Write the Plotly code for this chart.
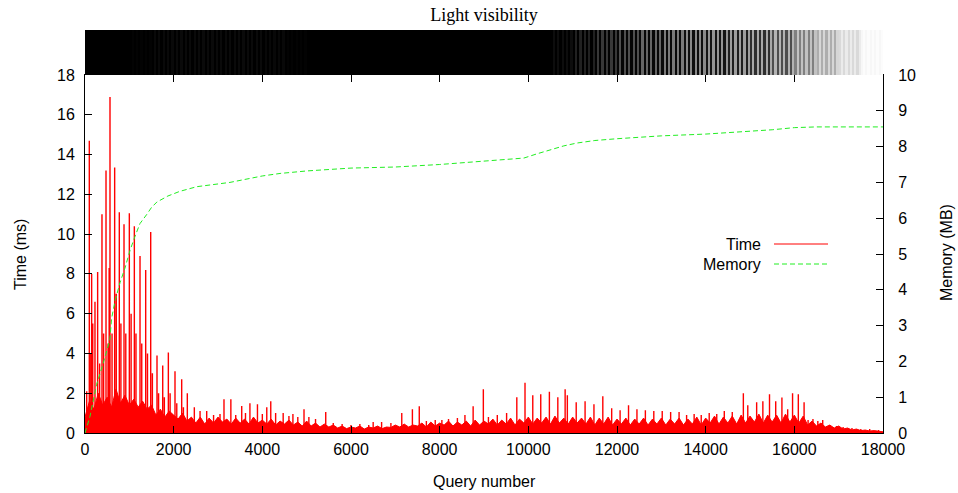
import plotly.graph_objects as go

# ---------------- data ----------------
query_ticks = list(range(0, 18001, 2000))
query_labels = [str(v) for v in query_ticks]
time_ticks = list(range(0, 19, 2))
mem_ticks = list(range(0, 11))

# prominent time spikes (query number, ms)
spike_q = [38, 97, 130, 150, 175, 225, 285, 330, 383, 420,
           474, 520, 545, 564, 610, 669, 705, 774, 810, 880,
           920, 1000, 1040, 1113, 1150, 1241, 1280, 1369, 1410, 1482,
           1520, 1624, 1660, 1753, 1790, 1880, 1920, 2030, 2070, 2181,
           2220, 2308, 2466, 2595, 2745, 2900, 3045, 3135, 3290, 3400,
           3535, 3620, 3720, 3890, 4000, 4100, 4190, 4300, 4470, 4600,
           4690, 4800, 4940, 5050, 5200, 5430, 5600, 5800, 6000, 6200,
           6400, 6500, 6690, 6900, 7145, 7385, 7540, 7700, 7900, 8050,
           8200, 8400, 8570, 8755, 8985, 9100, 9300, 9510, 9740, 9925,
           10100, 10280, 10475, 10665, 10830, 10880, 11080, 11280, 11480, 11680,
           11880, 12070, 12260, 12450, 12640, 12830, 13020, 13210, 13400, 13570,
           13740, 13900, 14080, 14250, 14420, 14600, 14850, 14950, 15150, 15290,
           15440, 15580, 15720, 15850, 15960, 16090, 16220, 16310, 16420, 16530,
           16640, 16800, 16950, 17100, 17300, 17500, 17700, 17900]
spike_ms = [2.1, 14.7, 4.0, 8.0, 5.5, 6.6, 8.1, 3.5, 11.0, 5.0,
            13.2, 4.5, 8.3, 16.9, 5.0, 13.35, 7.0, 11.1, 5.5, 10.5,
            5.0, 11.05, 6.0, 10.4, 5.0, 8.9, 4.5, 8.2, 4.0, 10.1,
            3.0, 3.9, 2.0, 3.4, 1.8, 4.05, 2.0, 3.1, 1.5, 2.7,
            1.3, 2.0, 1.3, 1.1, 1.1, 0.9, 0.95, 1.7, 1.7, 0.9,
            1.36, 1.0, 1.5, 1.45, 0.95, 1.3, 1.6, 1.0, 1.0, 0.85,
            0.95, 0.8, 1.2, 0.8, 0.7, 1.05, 0.5, 0.45, 0.4, 0.45,
            0.4, 0.55, 0.55, 0.5, 1.0, 1.2, 1.35, 0.6, 0.65, 0.65,
            0.7, 0.75, 0.9, 1.35, 2.2, 0.8, 0.9, 1.0, 1.8, 2.53,
            1.9, 1.95, 2.08, 1.8, 2.2, 1.9, 1.55, 1.6, 1.45, 1.85,
            1.25, 1.15, 1.4, 1.2, 1.15, 1.1, 1.1, 1.05, 1.05, 0.9,
            0.95, 0.9, 1.0, 0.95, 1.1, 1.05, 2.0, 1.4, 1.55, 1.6,
            1.95, 1.6, 1.78, 1.2, 2.0, 1.95, 1.55, 0.65, 0.7, 0.6,
            0.65, 0.4, 0.35, 0.3, 0.25, 0.2, 0.2, 0.15]

# dense time band between spikes (every 100 queries)
base_q = list(range(0, 18001, 100))
base_ms = [0.8, 1.6, 1.2, 2.0, 1.4, 1.8, 1.3, 2.2, 1.5, 1.9, 1.4, 1.7, 1.3, 1.6, 1.2,
           1.4, 0.9, 1.2, 0.8, 1.1, 0.9, 0.7, 1.0, 0.6, 0.8,
           0.5, 0.8, 0.45, 0.75, 0.5, 0.8, 0.55, 0.7, 0.45, 0.75,
           0.5, 0.7, 0.45, 0.8, 0.5, 0.65, 0.45, 0.7, 0.4, 0.6,
           0.45, 0.65, 0.4, 0.55, 0.35, 0.6, 0.35, 0.5, 0.3, 0.45,
           0.3, 0.4, 0.25, 0.35, 0.22, 0.3, 0.25, 0.35, 0.2, 0.3,
           0.25, 0.35, 0.22, 0.3, 0.28, 0.4, 0.3, 0.45, 0.3, 0.4,
           0.35, 0.5, 0.3, 0.55, 0.35, 0.5, 0.4, 0.6, 0.35, 0.55,
           0.4, 0.6, 0.35, 0.65, 0.4, 0.6, 0.45, 0.7, 0.4, 0.65,
           0.45, 0.75, 0.4, 0.7, 0.5, 0.8, 0.45, 0.75, 0.5, 0.8,
           0.45, 0.85, 0.5, 0.75, 0.45, 0.8, 0.5, 0.75, 0.45, 0.8,
           0.4, 0.75, 0.45, 0.8, 0.4, 0.7, 0.45, 0.75, 0.4, 0.7,
           0.45, 0.75, 0.4, 0.7, 0.45, 0.75, 0.4, 0.7, 0.45, 0.75,
           0.4, 0.7, 0.45, 0.8, 0.4, 0.75, 0.5, 0.85, 0.45, 0.8,
           0.5, 0.85, 0.45, 0.9, 0.5, 0.85, 0.55, 0.95, 0.5, 0.9,
           0.55, 0.9, 0.5, 0.95, 0.55, 0.9, 0.5, 0.85, 0.4, 0.6,
           0.35, 0.5, 0.3, 0.4, 0.25, 0.35, 0.2, 0.25, 0.15, 0.2,
           0.12, 0.15, 0.1, 0.12, 0.08, 0.06]

# memory usage
mem_q = [0, 110, 260, 400, 560, 600, 680, 790, 900, 1015,
         1130, 1240, 1390, 1500, 1620, 1870, 2140, 2520, 3270, 4000,
         4400, 5000, 6000, 7000, 8000, 9000, 9500, 9900, 10200, 10500,
         10800, 11100, 11500, 12000, 12500, 13000, 14000, 15000, 15500, 16000,
         16500, 18000]
mem_mb = [0, 0.45, 1.35, 1.9, 2.6, 3.2, 3.7, 4.2, 4.6, 5.1,
          5.5, 5.85, 6.1, 6.3, 6.45, 6.62, 6.75, 6.88, 7.0, 7.18,
          7.25, 7.32, 7.4, 7.43, 7.5, 7.6, 7.63, 7.68, 7.8, 7.92,
          8.02, 8.1, 8.17, 8.22, 8.26, 8.3, 8.35, 8.42, 8.47, 8.53,
          8.55, 8.55]

# light visibility strip: grey level of dark and light stripes per 500-query segment
vis_seg_q = list(range(0, 18000, 500))
vis_dark = [0, 0, 0, 0, 0, 0, 0, 0, 0, 0,
            0, 0, 0, 0, 0, 0, 0, 0, 0, 0,
            0, 0, 0, 0.01, 0.02, 0.03, 0.04, 0.06, 0.08, 0.12,
            0.18, 0.3, 0.5, 0.68, 0.85, 0.97]
vis_light = [0, 0, 0.01, 0.035, 0.04, 0.04, 0.04, 0.04, 0.03, 0.01,
             0, 0, 0, 0, 0, 0, 0, 0, 0, 0,
             0, 0.05, 0.13, 0.22, 0.31, 0.4, 0.48, 0.54, 0.58, 0.62,
             0.66, 0.7, 0.76, 0.84, 0.92, 0.99]

# ---------------- figure ----------------
SANS = "Liberation Sans, Arial, sans-serif"
SERIF = "Liberation Serif, Times New Roman, serif"

FIG_W, FIG_H = 958, 493
M_L, M_R, M_T, M_B = 85, 75, 30, 60
PLOT_W = FIG_W - M_L - M_R
PLOT_H = FIG_H - M_T - M_B
main_top = 358 / PLOT_H

vis_x, vis_z = [], []
for s, d, l in zip(vis_seg_q, vis_dark, vis_light):
    for j in range(10):
        vis_x.append(s + 25 + 50 * j)
        vis_z.append(d if j % 2 == 0 else l)

sx, sy = [], []
for q, h in zip(spike_q, spike_ms):
    sx += [q, q, q]
    sy += [0, h, 0]

fig = go.Figure()
fig.add_trace(go.Heatmap(z=[vis_z], x=vis_x, y=[0], xaxis="x", yaxis="y3",
                         colorscale=[[0, "#000000"], [1, "#ffffff"]], zmin=0, zmax=1,
                         showscale=False, hoverinfo="skip"))
fig.add_trace(go.Scatter(x=base_q, y=base_ms, mode="lines", fill="tozeroy",
                         fillcolor="#ff0000", line=dict(color="#ff0000", width=1),
                         showlegend=False, hoverinfo="skip"))
fig.add_trace(go.Scatter(x=sx, y=sy, mode="lines", name="Time",
                         line=dict(color="#ff0000", width=1.4), showlegend=False))
fig.add_trace(go.Scatter(x=mem_q, y=mem_mb, mode="lines", name="Memory", yaxis="y2",
                         line=dict(color="#22ee22", width=1, dash="5px,3px"), showlegend=False))

axis_common = dict(showgrid=False, zeroline=False, showline=True, linecolor="black",
                   linewidth=1, ticks="inside", ticklen=7, tickcolor="black",
                   tickfont=dict(family=SANS, size=16, color="black"))
title_font = dict(family=SANS, size=16, color="black")

fig.update_layout(
    width=FIG_W, height=FIG_H,
    margin=dict(l=M_L, r=M_R, t=M_T, b=M_B),
    paper_bgcolor="white", plot_bgcolor="white",
    showlegend=False,
    title=dict(text="Light visibility", x=0.5, xref="paper", xanchor="center",
               y=1 - 15 / FIG_H, yref="container", yanchor="middle",
               font=dict(family=SERIF, size=18, color="black")),
    xaxis=dict(range=[0, 18000], tickvals=query_ticks, ticktext=query_labels,
               mirror="ticks", anchor="y", ticklabelstandoff=2, **axis_common),
    yaxis=dict(domain=[0, main_top], range=[0, 18], tickvals=time_ticks, mirror=True,
               ticklabelstandoff=6, **axis_common),
    yaxis2=dict(overlaying="y", side="right", range=[0, 10], tickvals=mem_ticks, anchor="x",
                ticklabelstandoff=11, **axis_common),
    yaxis3=dict(domain=[main_top, 1], range=[-0.5, 0.5], visible=False, anchor="x"),
)

# axis titles placed as text (kept inside the page)
def px_x(px):
    return (px - M_L) / PLOT_W

def px_y(py):
    return (FIG_H - M_B - py) / PLOT_H

axis_titles = [("Query number", 484, 481, 0),
               ("Time (ms)", 20, 255, -90),
               ("Memory (MB)", 946, 253, -90)]
for text, px, py, ang in axis_titles:
    fig.add_annotation(text=text, x=px_x(px), y=px_y(py), xref="paper", yref="paper",
                       xanchor="center", yanchor="middle", textangle=ang, showarrow=False,
                       font=title_font)

# gnuplot-style key (text left of the line sample)
key_items = [("Time", 244, dict(color="#ff0000", width=1)),
             ("Memory", 264, dict(color="#22ee22", width=1, dash="5px,3px"))]
for label, py, ln in key_items:
    yp = px_y(py)
    fig.add_annotation(text=label, x=px_x(763), y=yp, xref="paper", yref="paper",
                       xanchor="right", yanchor="middle", showarrow=False,
                       font=dict(family=SANS, size=16, color="black"))
    fig.add_shape(type="line", xref="paper", yref="paper",
                  x0=px_x(774), x1=px_x(828), y0=yp, y1=yp, line=ln)

fig.write_html("out.html", config={"displayModeBar": False},
               post_script="document.body.style.margin='0';document.body.style.overflow='hidden';")
